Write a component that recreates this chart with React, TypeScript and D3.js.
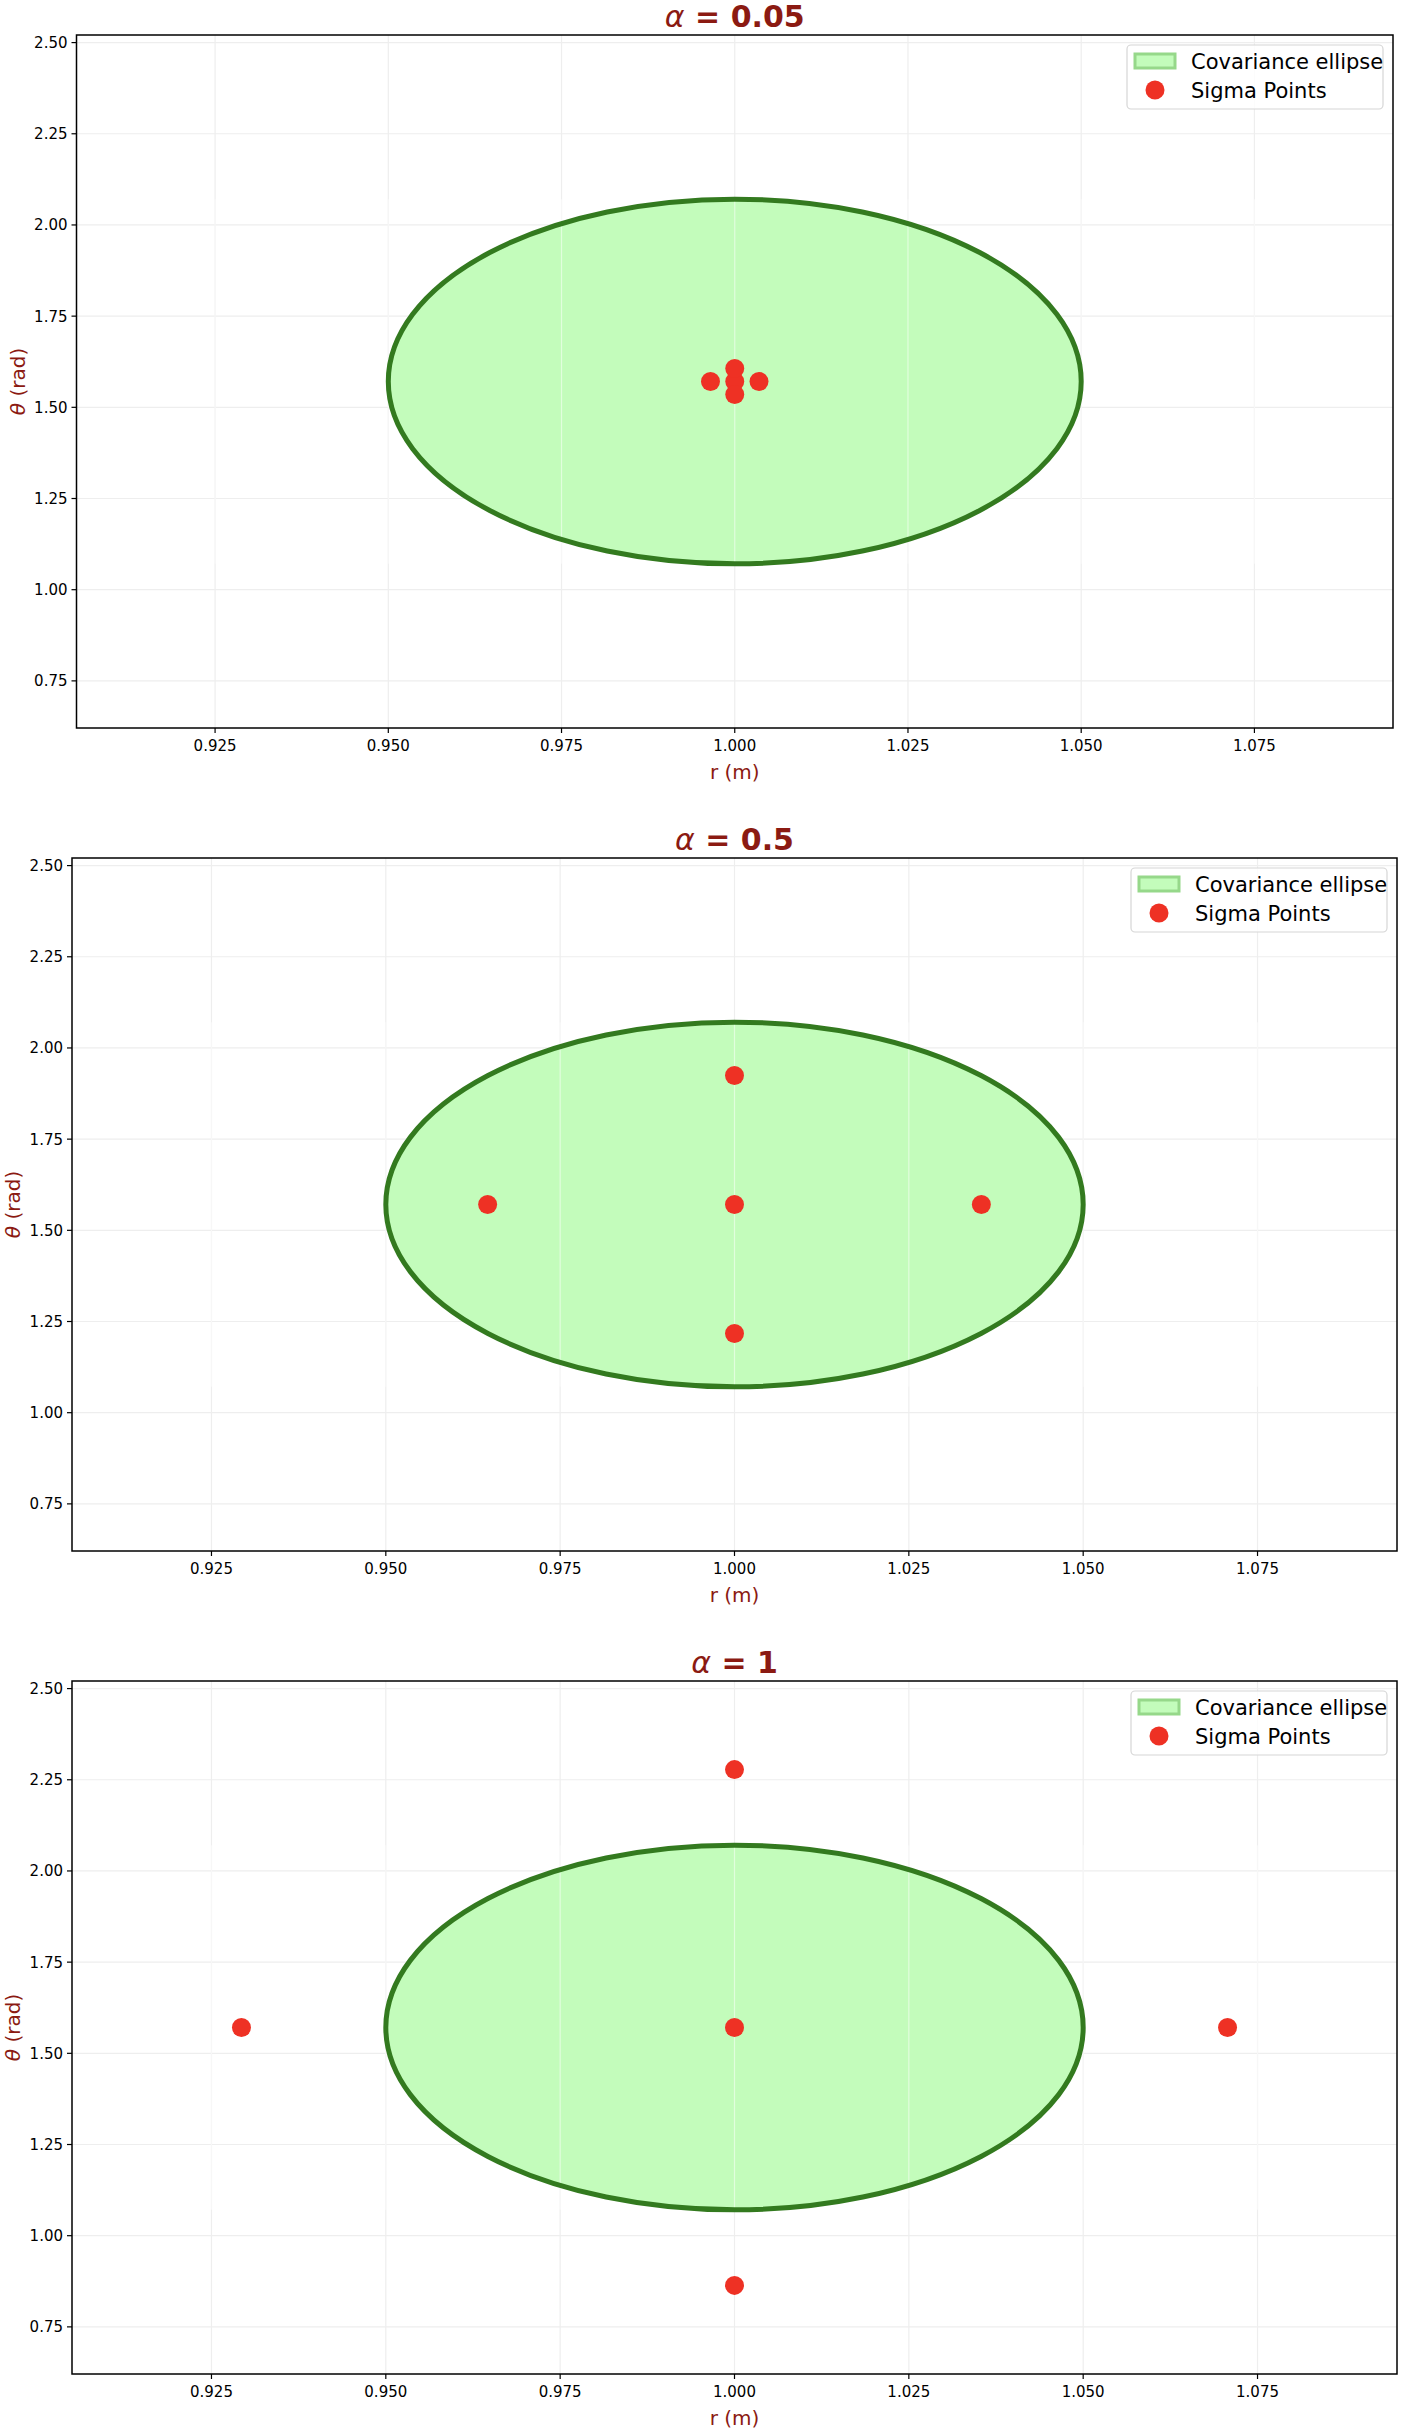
import * as d3 from 'd3';

const alphas = ['0.05', '0.5', '1'];
const center = { r: 1.0, theta: 1.5708 };
const ellipseAxes = { r: 0.05, theta: 0.5 };
// sigma points per panel: [r, theta]
const sigmaSets: [number, number][][] = [
  [[1.0, 1.5708], [1.0035, 1.5708], [0.9965, 1.5708], [1.0, 1.6062], [1.0, 1.5354]],
  [[1.0, 1.5708], [1.0354, 1.5708], [0.9646, 1.5708], [1.0, 1.9244], [1.0, 1.2172]],
  [[1.0, 1.5708], [1.0707, 1.5708], [0.9293, 1.5708], [1.0, 2.2779], [1.0, 0.8637]],
];
const xTicks = [0.925, 0.95, 0.975, 1.0, 1.025, 1.05, 1.075];
const yTicks = [0.75, 1.0, 1.25, 1.5, 1.75, 2.0, 2.25, 2.5];

const W = 1411;
const H = 2431;
const panels = [
  { top: 35, left: 76.5, right: 1393 },
  { top: 858, left: 72, right: 1397 },
  { top: 1681, left: 72, right: 1397 },
];
const PH = 693;
const TITLE = '#8b1a12';
const FONT = 'DejaVu Sans, sans-serif';

function Panel({ idx }: { idx: number }) {
  const p = panels[idx];
  const x = d3.scaleLinear().domain([0.905, 1.095]).range([p.left, p.right]);
  const y = d3.scaleLinear().domain([0.6208, 2.5208]).range([p.top + PH, p.top]);
  const cx = x(center.r);
  const cy = y(center.theta);
  const rx = x(center.r + ellipseAxes.r) - cx;
  const ry = cy - y(center.theta + ellipseAxes.theta);
  const lx = p.right - 266;
  const ly = p.top + 10;
  return (
    <g>
      {xTicks.map((t) => (
        <line key={'gx' + t} x1={x(t)} x2={x(t)} y1={p.top} y2={p.top + PH} stroke="#eeeeee" strokeWidth={1.2} />
      ))}
      {yTicks.map((t) => (
        <line key={'gy' + t} x1={p.left} x2={p.right} y1={y(t)} y2={y(t)} stroke="#eeeeee" strokeWidth={1.2} />
      ))}
      <ellipse cx={cx} cy={cy} rx={rx} ry={ry} fill="#c3fcbb" />
      {xTicks.map((t) => (
        <line key={'ix' + t} x1={x(t)} x2={x(t)} y1={cy - ry} y2={cy + ry} stroke="#ffffff" strokeOpacity={0.5} strokeWidth={1.2} />
      ))}
      <ellipse cx={cx} cy={cy} rx={rx} ry={ry} fill="none" stroke="#337a1f" strokeWidth={5} />
      {sigmaSets[idx].map(([r, th], i) => (
        <circle key={i} cx={x(r)} cy={y(th)} r={9.5} fill="#ee3124" />
      ))}
      <rect x={p.left} y={p.top} width={p.right - p.left} height={PH} fill="none" stroke="#000" strokeWidth={1.5} />
      {xTicks.map((t) => (
        <g key={'tx' + t}>
          <line x1={x(t)} x2={x(t)} y1={p.top + PH} y2={p.top + PH + 5} stroke="#000" strokeWidth={1.2} />
          <text x={x(t)} y={p.top + PH + 23} textAnchor="middle" fontSize={15} fontFamily={FONT}>
            {d3.format('.3f')(t)}
          </text>
        </g>
      ))}
      {yTicks.map((t) => (
        <g key={'ty' + t}>
          <line x1={p.left - 5} x2={p.left} y1={y(t)} y2={y(t)} stroke="#000" strokeWidth={1.2} />
          <text x={p.left - 9} y={y(t) + 5.5} textAnchor="end" fontSize={15} fontFamily={FONT}>
            {d3.format('.2f')(t)}
          </text>
        </g>
      ))}
      <text x={(p.left + p.right) / 2} y={p.top - 8} textAnchor="middle" fontSize={30} fontWeight="bold" fill={TITLE} fontFamily={FONT}>
        <tspan fontStyle="italic" fontWeight="normal">α</tspan> = {alphas[idx]}
      </text>
      <text x={(p.left + p.right) / 2} y={p.top + PH + 51} textAnchor="middle" fontSize={20} fill={TITLE} fontFamily={FONT}>
        r (m)
      </text>
      <text transform={`translate(${p.left - 52},${p.top + PH / 2}) rotate(-90)`} textAnchor="middle" fontSize={20} fill={TITLE} fontFamily={FONT}>
        <tspan fontStyle="italic">θ</tspan> (rad)
      </text>
      <rect x={lx} y={ly} width={256} height={64} rx={4} fill="#fff" fillOpacity={0.8} stroke="#d6d6d6" strokeWidth={1.2} />
      <rect x={lx + 8} y={ly + 9} width={40} height={14} fill="#c3fcbb" stroke="#96d88a" strokeWidth={3} />
      <text x={lx + 64} y={ly + 24} fontSize={21} fontFamily={FONT}>Covariance ellipse</text>
      <circle cx={lx + 28} cy={ly + 45} r={9.5} fill="#ee3124" />
      <text x={lx + 64} y={ly + 53} fontSize={21} fontFamily={FONT}>Sigma Points</text>
    </g>
  );
}

export default function App() {
  return (
    <svg width={W} height={H} style={{ display: 'block', position: 'absolute', left: 0, top: 0, background: '#fff' }}>
      <rect width={W} height={H} fill="#fff" />
      {panels.map((_, i) => (
        <Panel key={i} idx={i} />
      ))}
    </svg>
  );
}
